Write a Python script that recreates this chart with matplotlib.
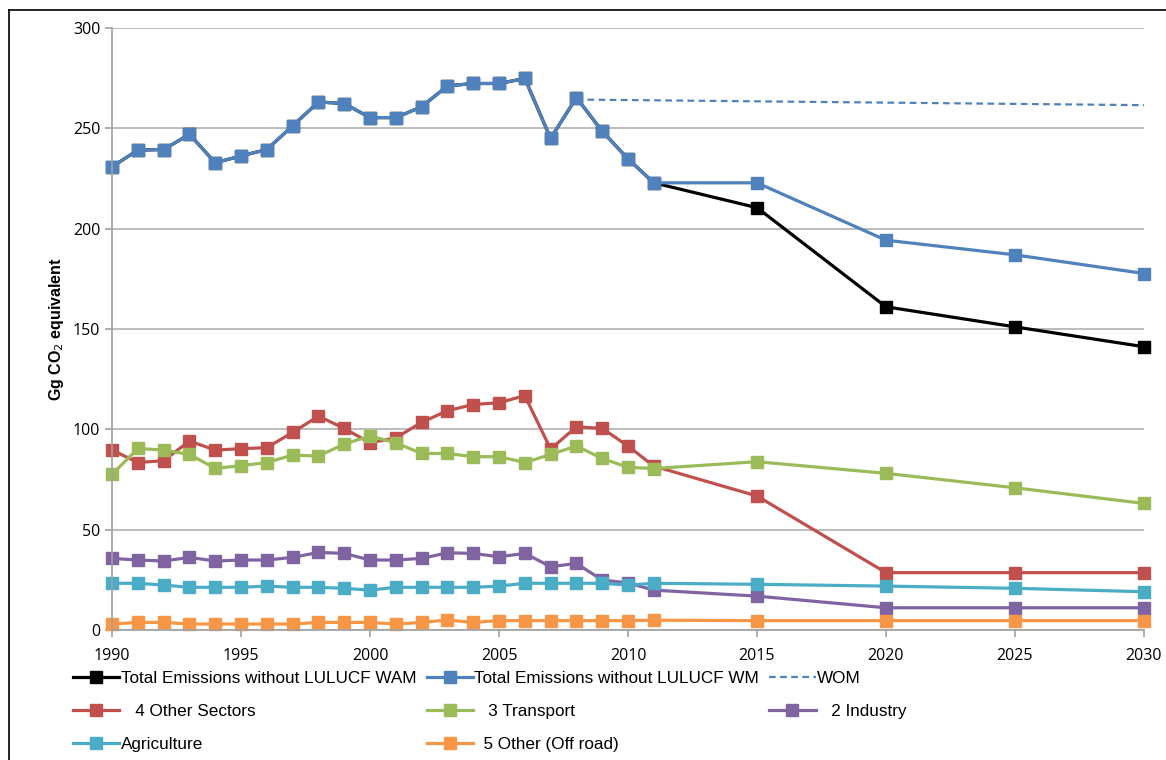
import matplotlib.pyplot as plt
from matplotlib.lines import Line2D

# years: annual history, then 5-year projections
years_hist = list(range(1990, 2012))
years_proj = [2015, 2020, 2025, 2030]
years = years_hist + years_proj

total_wm = [230.9, 239.2, 239.5, 247.1, 232.9, 236.3, 239.5, 251.3, 263.2, 262.4,
            255.4, 255.4, 260.8, 271.2, 272.4, 272.4, 274.9, 245.0, 265.4, 248.6,
            234.8, 222.9, 222.9, 194.3, 187.0, 177.7]
total_wam = total_wm[:22] + [210.5, 161.1, 151.1, 141.2]
wom_years = [2008, 2030]
wom = [264.4, 261.6]
other_sectors = [89.7, 83.5, 84.4, 94.2, 89.7, 90.4, 90.9, 98.5, 106.6, 100.5,
                 93.3, 95.8, 103.5, 109.3, 112.4, 113.3, 116.8, 90.2, 101.3, 100.5,
                 91.7, 81.7, 66.8, 28.6, 28.6, 28.6]
transport = [77.6, 90.5, 89.7, 87.5, 80.6, 81.9, 83.5, 87.2, 86.7, 92.7,
             96.7, 93.3, 88.0, 88.0, 86.4, 86.4, 83.5, 87.5, 91.7, 85.5,
             81.1, 80.5, 83.9, 78.1, 70.9, 63.1]
industry = [35.7, 34.9, 34.4, 36.2, 34.4, 34.9, 34.9, 36.2, 38.7, 38.2,
            34.9, 34.9, 35.7, 38.5, 38.2, 36.5, 38.2, 31.6, 33.2, 24.9,
            23.5, 19.9, 16.9, 11.1, 11.1, 11.1]
agriculture = [23.3, 23.3, 22.4, 21.3, 21.3, 21.3, 21.9, 21.3, 21.3, 20.8,
               19.9, 21.3, 21.3, 21.3, 21.3, 21.9, 23.3, 23.3, 23.3, 23.3,
               22.4, 23.3, 22.8, 21.9, 20.8, 19.1]
off_road = [3.0, 3.8, 3.8, 3.0, 3.0, 3.0, 3.0, 3.0, 3.8, 3.8,
            3.8, 3.0, 3.8, 5.0, 3.8, 4.7, 4.7, 4.7, 4.7, 4.7,
            4.7, 4.9, 4.7, 4.7, 4.7, 4.7]

blue = '#4F81BD'
legend_font = ['Liberation Sans Narrow', 'Liberation Sans', 'DejaVu Sans']
tick_font = ['Open Sans', 'DejaVu Sans']

fig = plt.figure(figsize=(11.66, 7.6), dpi=100)
ax = fig.add_axes([0.0961, 0.171, 0.885, 0.792])

kw = dict(marker='s', markersize=8, linewidth=2.3)
h_wam, = ax.plot(years, total_wam, color='black', label='Total Emissions without LULUCF WAM', **kw)
h_wm, = ax.plot(years, total_wm, color=blue, label='Total Emissions without LULUCF WM', **kw)
h_wom, = ax.plot(wom_years, wom, color=blue, linestyle=(0, (3, 2)), linewidth=1.6, label='WOM')
h_oth, = ax.plot(years, other_sectors, color='#C0504D', label='   4 Other Sectors', **kw)
h_tra, = ax.plot(years, transport, color='#9BBB59', label='   3 Transport', **kw)
h_ind, = ax.plot(years, industry, color='#8064A2', label='   2 Industry', **kw)
h_agr, = ax.plot(years, agriculture, color='#4BACC6', label='Agriculture', **kw)
h_off, = ax.plot(years, off_road, color='#F79646', label='  5 Other (Off road)', **kw)

ax.set_xlim(1990, 2030)
ax.set_ylim(0, 300)
ax.set_xticks(range(1990, 2031, 5))
ax.set_yticks(range(0, 301, 50))
ax.grid(axis='y', color='#B0B0B0', linewidth=1.2)
ax.set_axisbelow(True)
for s in ['top', 'right']:
    ax.spines[s].set_visible(False)
for s in ['left', 'bottom']:
    ax.spines[s].set_color('#A0A0A0')
    ax.spines[s].set_linewidth(1.2)
ax.tick_params(axis='both', colors='#A0A0A0', labelcolor='black', length=5, width=1.2)
ax.tick_params(axis='x', pad=8)
for lab in ax.get_xticklabels() + ax.get_yticklabels():
    lab.set_family(tick_font)
    lab.set_fontsize(11.5)
for line in ax.get_lines():
    line.set_clip_on(False)

ax.set_ylabel('Gg CO$_2$ equivalent', fontsize=11.5, fontweight='bold',
              family=['Liberation Sans', 'DejaVu Sans'], labelpad=5)

handles = [h_wam, h_oth, h_agr, h_wm, h_tra, h_off, h_wom, h_ind]
fig.legend(handles=handles, labels=[h.get_label() for h in handles],
           loc='upper left', bbox_to_anchor=(0.0494, 0.137), ncol=3, frameon=False,
           prop={'family': legend_font, 'size': 12.3}, handlelength=2.7,
           handletextpad=0.1, columnspacing=0.6, labelspacing=1.05)

# outer chart border (top and left edges visible)
fig.add_artist(Line2D([0.0077, 0.0077], [0.0, 0.987], color='black', linewidth=1.2,
                      transform=fig.transFigure))
fig.add_artist(Line2D([0.0077, 1.0], [0.987, 0.987], color='black', linewidth=1.2,
                      transform=fig.transFigure))

fig.savefig('out.png', dpi=100)
